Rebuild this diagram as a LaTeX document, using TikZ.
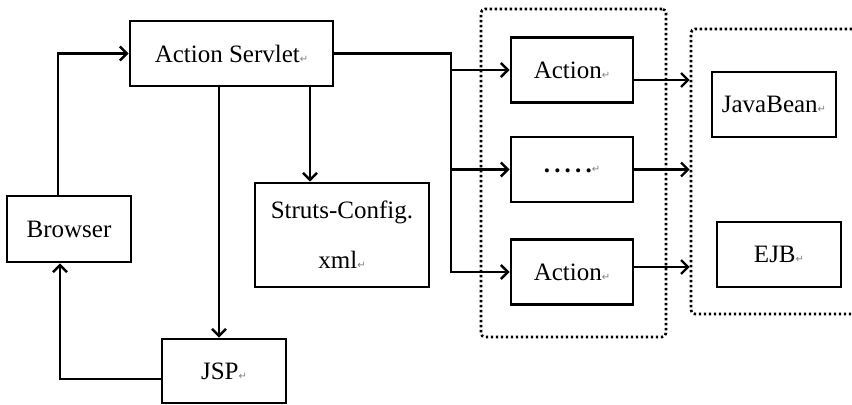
\documentclass[tikz,border=0pt]{standalone}
\usepackage{fontspec}
\setmainfont{Liberation Serif}
\newfontfamily\markfont{DejaVu Sans}
\usetikzlibrary{positioning,shapes,fit,arrows,arrows.meta}
\newcommand{\pmark}{{\markfont\fontsize{5pt}{5pt}\selectfont\textcolor{gray}{↵}}}

\begin{document}
\begin{tikzpicture}[x=0.5pt, y=-0.5pt, font=\fontsize{12.5pt}{15pt}\selectfont,
        box/.style={rectangle, draw, line width=1.4pt, inner sep=0pt,
                    minimum width=61pt, minimum height=32.5pt},
        group/.style={rectangle, draw, line width=1.3pt, dash pattern=on 1.2pt off 1.3pt,
                      rounded corners=2pt, inner sep=0pt},
        flow/.style={line width=1.2pt, -{Straight Barb[length=3.5pt,width=7pt]}}]
 \clip (0,0) rectangle (852,405);
 % left part
 \node [box, minimum width=101.5pt] (servlet) at (231.5,53.5) {Action Servlet\pmark};
 \node [box, minimum width=62pt, minimum height=33pt] (browser) at (69,229) {Browser};
 \node [box, minimum width=87pt, minimum height=52pt, align=center] (struts) at (342,235)
       {Struts-Config.\\[10pt]xml\pmark};
 \node [box, minimum width=62pt, minimum height=32pt] (jsp) at (224,371) {JSP\pmark};
 % actions
 \node [box] (act1) at (572,70) {Action\pmark};
 \node [box] (more) at (572,169.5) {\textbf{.\,.\,.\,.\,.}\pmark};
 \node [box] (act3) at (572,272) {Action\pmark};
 \node [group, minimum width=92.5pt, minimum height=164pt] (actions) at (573.5,173) {};
 % model
 \node [box, minimum width=62pt] (bean) at (774,104.5) {JavaBean\pmark};
 \node [box, minimum width=62pt] (ejb) at (779,254.5) {EJB\pmark};
 \node [group, minimum width=110pt, minimum height=142.5pt] (model) at (801,171.5) {};
 \coordinate (bus) at (451,0);

 \draw [flow] ([xshift=-5.5pt]browser.north) |- (servlet.west);
 \draw [flow] ([xshift=-2.5pt]servlet.south -| jsp.north) -- ([xshift=-2.5pt]jsp.north);
 \draw [flow] ([xshift=-16pt]struts.north |- servlet.south) -- ([xshift=-16pt]struts.north);
 \draw [flow] ([yshift=-4pt]jsp.west) -| ([xshift=-4.5pt]browser.south);
 \draw [flow] (servlet.east) -| (bus |- act3.west) -- (act3.west);
 \draw [flow] (bus |- act1.west) -- (act1.west);
 \draw [flow] (bus |- more.west) -- (more.west);
 \draw [flow] ([yshift=-5pt]act1.east) -- ([yshift=-5pt]act1.east -| model.west);
 \draw [flow] (more.east) -- (more.east -| model.west);
 \draw [flow] ([yshift=2.5pt]act3.east) -- ([yshift=2.5pt]act3.east -| model.west);
\end{tikzpicture}
\end{document}
